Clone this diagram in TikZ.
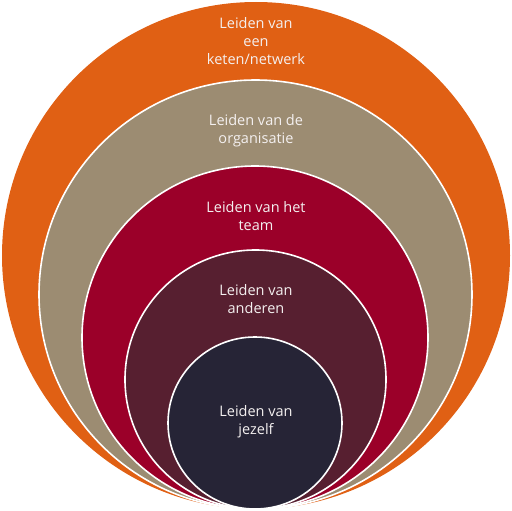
\documentclass[tikz,border=0pt]{standalone}
\usepackage{fontspec}
\setmainfont{Open Sans}
\definecolor{cOrange}{HTML}{E06014}
\definecolor{cTan}{HTML}{9C8C72}
\definecolor{cCrimson}{HTML}{9B0029}
\definecolor{cMaroon}{HTML}{571F30}
\definecolor{cNavy}{HTML}{262436}
\definecolor{cText}{HTML}{F4F0F0}
\tikzset{
  ring/.style={draw=white, line width=1.6pt},
  lbl/.style={text=cText, align=center, inner sep=0pt, font=\fontsize{14.5}{18}\selectfont}
}
\begin{document}
\begin{tikzpicture}[x=1pt,y=-1pt]
\useasboundingbox (0,0) rectangle (512,511);
\filldraw[ring, fill=cOrange, draw=none] (256,255.5) ellipse [x radius=254pt, y radius=253.5pt];
\filldraw[ring, fill=cTan] (255.5,294.5) ellipse [x radius=216.5pt, y radius=214.5pt];
\filldraw[ring, fill=cCrimson] (255,337.5) ellipse [x radius=173pt, y radius=171.5pt];
\filldraw[ring, fill=cMaroon] (255.5,379.5) ellipse [x radius=130.5pt, y radius=129.5pt];
\filldraw[ring, fill=cNavy] (255,423) ellipse [x radius=87pt, y radius=86pt];
\node[lbl] (t1) at (256,41) {Leiden van\\een\\keten/netwerk};
\node[lbl] (t2) at (256,131) {Leiden van de\\organisatie};
\node[lbl] (t3) at (256,216) {Leiden van het\\team};
\node[lbl] (t4) at (256,299) {Leiden van\\anderen};
\node[lbl] (t5) at (256,422) {Leiden van\\jezelf};
\end{tikzpicture}
\end{document}
